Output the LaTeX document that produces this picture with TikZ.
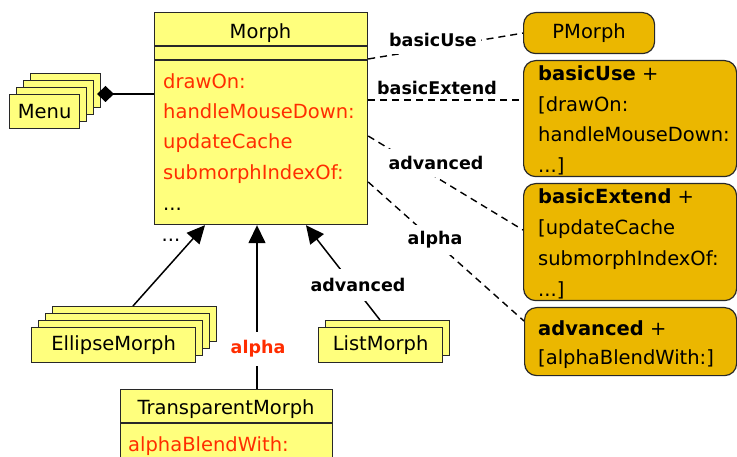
\documentclass[tikz,border=0pt]{standalone}
\usepackage{fontspec}
\setmainfont{DejaVu Sans}
\usetikzlibrary{arrows.meta}
\definecolor{classfill}{RGB}{255,255,125}
\definecolor{opred}{RGB}{255,45,0}
\definecolor{scopefill}{RGB}{235,183,0}
\definecolor{edgegray}{RGB}{40,40,40}
\begin{document}
\begin{tikzpicture}[x=1pt,y=-1pt,
  cls/.style={draw=edgegray, line width=1.2pt, fill=classfill, inner sep=0pt, anchor=north west,
              font=\fontsize{19.5}{23}\selectfont},
  divider/.style={draw=edgegray, line width=1.2pt},
  scopebox/.style={draw=edgegray, line width=1.2pt, fill=scopefill, rounded corners=12pt,
                   inner sep=0pt, anchor=north west, font=\fontsize{19.5}{23}\selectfont},
  txt/.style={font=\fontsize{19.5}{23}\selectfont, inner sep=0pt, anchor=base west},
  optxt/.style={txt, text=opred},
  lbl/.style={font=\fontsize{17.5}{21}\selectfont\bfseries, fill=white, inner xsep=4pt, inner ysep=7pt},
  inherit/.style={line width=1.5pt, -{Triangle[length=18pt,width=17pt]}},
  scopelink/.style={line width=1.4pt, dash pattern=on 7pt off 5pt},
]
\clip (0,0) rectangle (737,457);

% ---- Morph class ----
\node[cls, minimum width=213pt, minimum height=212pt] (morph) at (154,12) {};
\draw[divider] (morph.north west) ++(0,34) -- ++(213,0);
\draw[divider] (morph.north west) ++(0,48) -- ++(213,0);
\node[txt, anchor=base] (morphname) at (260.5,39) {Morph};
\foreach \n/\y/\t in {1/89/drawOn:, 2/119/handleMouseDown:, 3/149/updateCache, 4/180/submorphIndexOf:}
  \node[optxt] (op\n) at (163,\y) {\t};
\node[txt] (opmore) at (163,211) {...};

% ---- Menu stack ----
\foreach \k in {3,2,1}
  \node[cls, minimum width=70pt, minimum height=34pt] (menu\k) at (9+7*\k,94-7*\k) {};
\node[cls, minimum width=70pt, minimum height=34pt] (menu) at (9,94) {Menu};
\coordinate (dtip) at (97,94);
\draw[line width=1.5pt, {Diamond[length=17pt,width=16pt]}-] (dtip) -- (dtip -| morph.west);

% ---- subclasses ----
\foreach \k in {3,2,1}
  \node[cls, minimum width=164pt, minimum height=35pt] (ell\k) at (31+7*\k,327-7*\k) {};
\node[cls, minimum width=164pt, minimum height=35pt] (ell) at (31,327) {EllipseMorph};

\node[cls, minimum width=124pt, minimum height=35pt] (list1) at (325,320) {};
\node[cls, minimum width=124pt, minimum height=35pt] (list) at (318,327) {ListMorph};

\node[cls, minimum width=212pt, minimum height=100pt] (tm) at (120,389) {};
\draw[divider] (tm.north west) ++(0,34) -- ++(212,0);
\node[txt, anchor=base] (tmname) at (226,414) {TransparentMorph};
\node[optxt] (tmop) at (128,451) {alphaBlendWith:};

% ---- inheritance ----
\draw[inherit] ([xshift=81pt]ell3.north west) -- ([xshift=51pt]morph.south west);
\draw[inherit] ([xshift=137pt]tm.north west) -- ([xshift=103pt]morph.south west);
\draw[inherit] ([xshift=55pt]list1.north west) -- ([xshift=152pt]morph.south west);
\node[txt, anchor=base] (dots) at (171,242) {...};
\node[lbl, text=opred, inner ysep=9pt] (lalpha) at (258,349) {alpha};
\node[lbl, inner ysep=9pt] (ladv) at (358,285) {advanced};

% ---- scope boxes ----
\node[scopebox, minimum width=131pt, minimum height=41pt] (pm) at (523,12) {PMorph};
\node[scopebox, minimum width=213pt, minimum height=116pt] (b2) at (523,60) {};
\node[scopebox, minimum width=213pt, minimum height=117pt] (b3) at (523,183) {};
\node[scopebox, minimum width=212pt, minimum height=68pt] (b4) at (524,307) {};

\node[txt] (b2a) at (538,81) {\textbf{basicUse} +};
\node[txt] (b2b) at (538,112) {[drawOn:};
\node[txt] (b2c) at (538,142) {handleMouseDown:};
\node[txt] (b2d) at (538,173) {...]};
\node[txt] (b3a) at (538,204) {\textbf{basicExtend} +};
\node[txt] (b3b) at (538,235) {[updateCache};
\node[txt] (b3c) at (538,266) {submorphIndexOf:};
\node[txt] (b3d) at (538,297) {...]};
\node[txt] (b4a) at (538,335) {\textbf{advanced} +};
\node[txt] (b4b) at (538,365) {[alphaBlendWith:]};

% ---- scope links ----
\draw[scopelink] ([yshift=-47pt]morph.north east) -- (pm.west);
\draw[scopelink] ([yshift=-88pt]morph.north east) -- ([yshift=-40pt]b2.north west);
\draw[scopelink] ([yshift=-124pt]morph.north east) -- ([yshift=-47pt]b3.north west);
\draw[scopelink] ([yshift=-170pt]morph.north east) -- ([yshift=-14pt]b4.north west);
\node[lbl] (lbu) at (433,40) {basicUse};
\node[lbl, inner ysep=3pt] (lbe) at (437,88) {basicExtend};
\node[lbl] (lad) at (436,163) {advanced};
\node[lbl] (lal) at (435,240) {alpha};
\end{tikzpicture}
\end{document}
